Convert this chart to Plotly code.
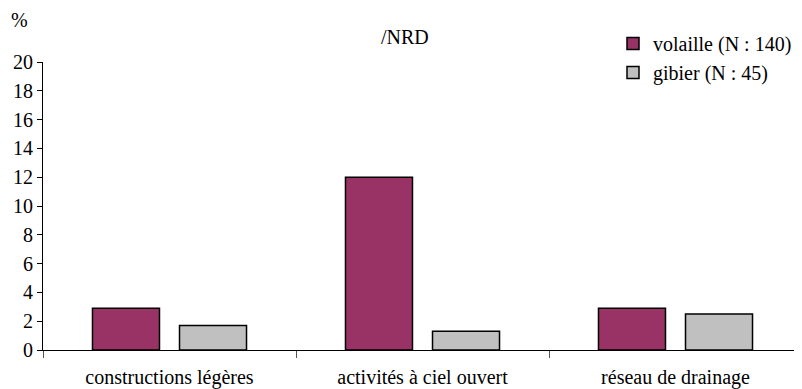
import plotly.graph_objects as go

categories = ["constructions légères", "activités à ciel ouvert", "réseau de drainage"]
volaille = [2.9, 12.0, 2.9]
gibier = [1.7, 1.3, 2.5]
series_names = ["volaille (N : 140)", "gibier (N : 45)"]
y_ticks = list(range(0, 21, 2))

FONT = "Liberation Serif"
FS = 20

OFF = 8  # page body margin offset
W, H = 802 - OFF, 389 - OFF
ML, MR, MT, MB = 43 - OFF, 0, 62 - OFF, 39
pw, ph = W - ML - MR, H - MT - MB

def px_x(px):
    return (px - OFF - ML) / pw

def px_y(py):
    return (H - MB - (py - OFF)) / ph

fig = go.Figure()
fig.add_trace(go.Bar(x=categories, y=volaille, name=series_names[0],
                     marker=dict(color="#993366", line=dict(color="#000000", width=1.5))))
fig.add_trace(go.Bar(x=categories, y=gibier, name=series_names[1],
                     marker=dict(color="#C0C0C0", line=dict(color="#000000", width=1.5))))

fig.update_layout(
    width=W, height=H,
    margin=dict(l=ML, r=MR, t=MT, b=MB, pad=0, autoexpand=False),
    paper_bgcolor="white", plot_bgcolor="white",
    font=dict(family=FONT, size=FS, color="black"),
    barmode="group", bargap=0.312, bargroupgap=0.23,
    showlegend=True,
    legend=dict(x=px_x(613), y=px_y(24), xanchor="left", yanchor="top",
                bgcolor="rgba(0,0,0,0)", itemwidth=30, tracegroupgap=0,
                font=dict(family=FONT, size=FS)),
    xaxis=dict(showline=True, linecolor="black", linewidth=1, automargin=False,
               ticks="outside", tickson="boundaries", ticklen=7, tickcolor="#555",
               ticklabelstandoff=9,
               showgrid=False, tickfont=dict(family=FONT, size=FS)),
    yaxis=dict(range=[0, 20], tickvals=y_ticks, showline=True, linecolor="black",
               linewidth=1, ticks="outside", ticklen=5, tickcolor="black", automargin=False,
               showgrid=False, zeroline=False, tickfont=dict(family=FONT, size=FS)),
    annotations=[
        dict(text="%", xref="paper", yref="paper", x=px_x(19), y=px_y(20),
             xanchor="center", yanchor="middle",
             showarrow=False, font=dict(family=FONT, size=FS)),
        dict(text="/NRD", xref="paper", yref="paper", x=px_x(405), y=px_y(37),
             xanchor="center", yanchor="middle",
             showarrow=False, font=dict(family=FONT, size=FS)),
    ],
)

fig.write_html("out.html")
